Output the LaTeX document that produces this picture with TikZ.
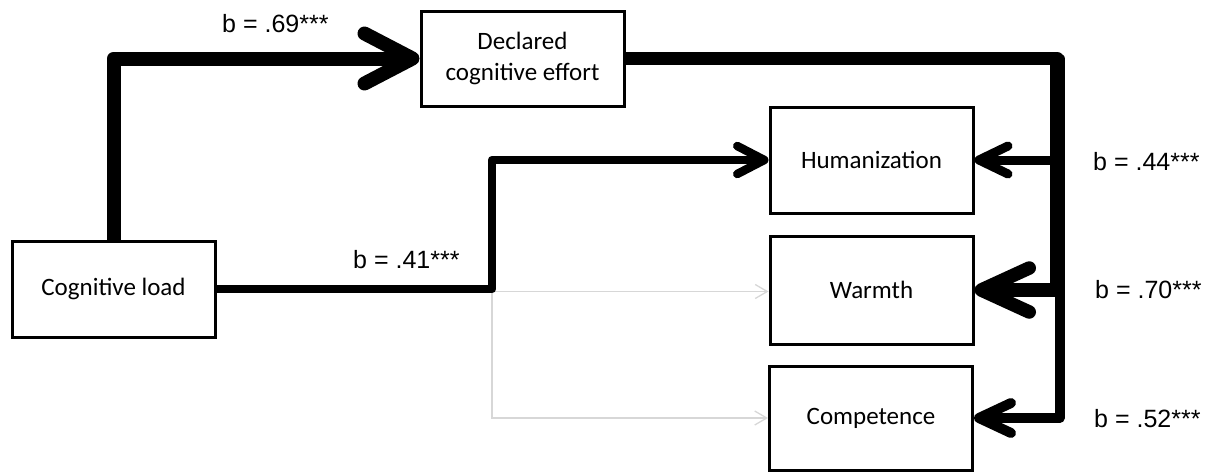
\documentclass[tikz,border=0pt]{standalone}
\usepackage{fontspec}
\setmainfont{Carlito}
\newfontfamily\labfont{Liberation Sans}
\usetikzlibrary{arrows.meta}
\begin{document}
\begin{tikzpicture}[x=1pt,y=-1pt,
  box/.style={draw, line width=3pt, minimum width=203pt, inner sep=0pt, align=center,
    font=\fontsize{25}{31}\selectfont},
  lab/.style={anchor=base west, inner sep=0pt, font=\labfont\fontsize{25}{30}\selectfont},
  conn/.style={line join=round},
  graylink/.style={draw={rgb,255:red,215;green,215;blue,215}, line width=1.3pt,
    -{Straight Barb[length=12pt,width=14pt]}}
]
\useasboundingbox (0,0) rectangle (1218,474);

% boxes
\node[box, minimum height=96pt]  (cl)   at (113.5,289) {Cognitive load};
\node[box, minimum height=95pt]  (dce)  at (522.5,58.5) {Declared\\cognitive effort};
\node[box, minimum height=106pt] (hum)  at (871.5,160) {Humanization};
\node[box, minimum height=108pt] (warm) at (871.5,290) {Warmth};
\node[box, minimum height=104pt] (comp) at (871,418) {Competence};

% junction points
\coordinate (j)  at (492,289);
\coordinate (g)  at (492,291.5);
\coordinate (ra) at (1057,58.5);
\coordinate (rb) at (1059.5,58.5);

% non-significant paths (light gray)
\draw[graylink] (g) -- (g -| warm.west);
\draw[graylink] (g) |- (comp.west);

% cognitive load paths
\draw[conn, line width=14pt, -{Straight Barb[length=48pt,width=50pt,round]}] (cl.north) |- (dce.west);
\draw[conn, line width=8.5pt, -{Straight Barb[length=27pt,width=28pt,round]}] (cl.east) -- (j) |- (hum.west);

% declared cognitive effort paths
\draw[conn, line width=9pt, -{Straight Barb[length=29pt,width=28pt,round]}] (dce.east) -- (ra) |- (hum.east);
\draw[conn, line width=10pt, -{Straight Barb[length=32pt,width=30pt,round]}] (dce.east) -- (rb) |- (comp.east);
\draw[conn, line width=13.5pt, -{Straight Barb[length=48pt,width=44pt,round]}] (dce.east) -- (ra) |- (warm.east);

% labels
\node[lab] (l69) at (222,32)   {b = .69***};
\node[lab] (l41) at (353,268)  {b = .41***};
\node[lab] (l44) at (1093,170) {b = .44***};
\node[lab] (l70) at (1095,298) {b = .70***};
\node[lab] (l52) at (1094,427) {b = .52***};
\end{tikzpicture}
\end{document}
